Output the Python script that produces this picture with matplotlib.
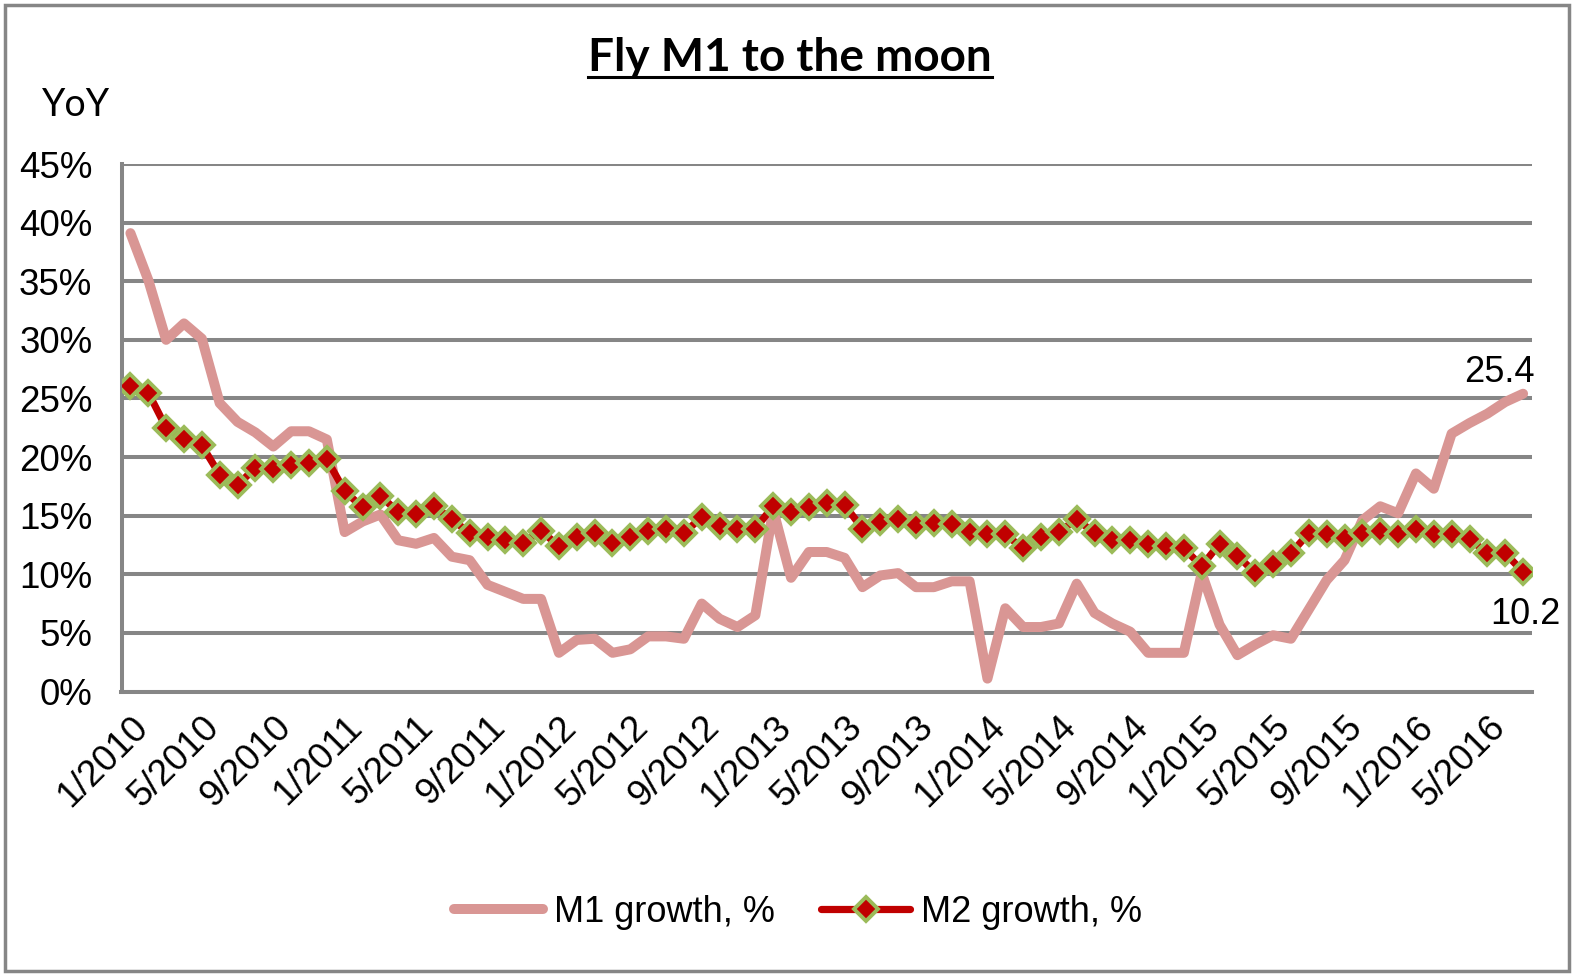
import matplotlib
matplotlib.use("Agg")
import matplotlib.pyplot as plt
from matplotlib.patches import Rectangle
from matplotlib.lines import Line2D
import numpy as np

# monthly YoY growth, 1/2010 .. 7/2016, in percent
m1_growth = [39.1, 35.1, 30.0, 31.4, 30.1, 24.6, 23.0, 22.1, 20.9, 22.2,
             22.2, 21.5, 13.6, 14.5, 15.1, 12.9, 12.6, 13.1, 11.5, 11.2,
             9.1, 8.5, 7.9, 7.9, 3.3, 4.4, 4.5, 3.3, 3.6, 4.7,
             4.7, 4.5, 7.5, 6.2, 5.5, 6.5, 15.5, 9.7, 11.9, 11.9,
             11.4, 8.9, 9.9, 10.1, 8.9, 8.9, 9.4, 9.4, 1.1, 7.1,
             5.5, 5.5, 5.8, 9.2, 6.7, 5.8, 5.1, 3.3, 3.3, 3.3,
             10.1, 5.7, 3.1, 4.0, 4.8, 4.5, 7.0, 9.5, 11.2, 14.6,
             15.8, 15.2, 18.6, 17.3, 22.0, 22.9, 23.7, 24.7, 25.4]

m2_growth = [26.1, 25.5, 22.5, 21.5, 21.0, 18.5, 17.6, 19.1, 19.0, 19.3,
             19.5, 19.8, 17.1, 15.7, 16.7, 15.3, 15.1, 15.8, 14.7, 13.5,
             13.2, 12.9, 12.7, 13.7, 12.4, 13.2, 13.5, 12.7, 13.2, 13.7,
             13.9, 13.5, 14.9, 14.1, 13.9, 13.9, 15.8, 15.3, 15.7, 16.1,
             15.9, 13.9, 14.5, 14.7, 14.2, 14.4, 14.3, 13.6, 13.4, 13.4,
             12.2, 13.2, 13.6, 14.7, 13.5, 12.9, 12.9, 12.6, 12.4, 12.2,
             10.7, 12.6, 11.6, 10.1, 10.9, 11.8, 13.5, 13.4, 13.1, 13.5,
             13.7, 13.4, 13.9, 13.4, 13.4, 13.0, 11.8, 11.8, 10.2]

months = ["%d/%d" % (i % 12 + 1, 2010 + i // 12) for i in range(len(m1_growth))]
y_ticks = [0, 5, 10, 15, 20, 25, 30, 35, 40, 45]

grey = "#868686"
W, H = 1572, 974

plt.rcParams["font.family"] = ["Liberation Sans", "DejaVu Sans"]

fig = plt.figure(figsize=(W / 100, H / 100), dpi=100)
ax = fig.add_axes([121.5 / W, 1 - 691.5 / H, (1532 - 121.5) / W, (691.5 - 164) / H])

x = np.arange(len(m1_growth))
ax.plot(x, m1_growth, color="#D99694", lw=7.2, solid_capstyle="round",
        solid_joinstyle="round", label="M1 growth, %", zorder=3)
ax.plot(x, m2_growth, color="#C00000", lw=5.2, marker="D", ms=12.5,
        mfc="#C00000", mec="#9BBB59", mew=2.8, solid_capstyle="round",
        label="M2 growth, %", zorder=4)

ax.set_xlim(-0.5, len(m1_growth) - 0.5)
ax.set_ylim(0, 45)
ax.set_yticks(y_ticks)
ax.set_yticklabels(["%d%%" % v for v in y_ticks])
ax.set_xticks(x[::4])
ax.set_xticklabels(months[::4], rotation=45, ha="right", va="top",
                   rotation_mode="anchor")
ax.tick_params(axis="y", length=0, pad=21, labelsize=26.5)
ax.tick_params(axis="x", length=0, pad=13, labelsize=26.5)

ax.grid(axis="y", color=grey, lw=2.9)
ax.set_axisbelow(True)
for s in ["top", "right"]:
    ax.spines[s].set_visible(False)
for s in ["left", "bottom"]:
    ax.spines[s].set_color(grey)
    ax.spines[s].set_linewidth(2.9)

# end labels
ax.annotate("%.1f" % m1_growth[-1], xy=(x[-1], m1_growth[-1]),
            xytext=(-17, 15), textcoords="offset points",
            ha="center", va="center", fontsize=26)
ax.annotate("%.1f" % m2_growth[-1], xy=(x[-1], m2_growth[-1]),
            xytext=(2, -31), textcoords="offset points",
            ha="center", va="center", fontsize=26)

leg = fig.legend(loc="center", bbox_to_anchor=(798 / W, 1 - 912 / H), ncol=2,
                 frameon=False, fontsize=26, handlelength=2.45,
                 handletextpad=0.3, columnspacing=1.3, numpoints=1)

title = fig.text(790 / W, 1 - 71 / H, "Fly M1 to the moon", ha="center",
                 va="baseline", fontsize=33, fontweight="bold",
                 family=["Lato", "DejaVu Sans"])
fig.text(42 / W, 1 - 116 / H, "YoY", ha="left", va="baseline",
         fontsize=27, family=["Lato", "DejaVu Sans"])

# underline under the title
fig.canvas.draw()
bb = title.get_window_extent()
uy = 1 - 77 / H
fig.add_artist(Line2D([bb.x0 / W, bb.x1 / W], [uy, uy], color="black",
                      lw=2.2, transform=fig.transFigure))

# chart border
fig.add_artist(Rectangle((5 / W, 3 / H), (W - 8) / W, (H - 8) / H,
                         transform=fig.transFigure, fill=False,
                         edgecolor=grey, lw=2.5))

fig.savefig("out.png", dpi=100)
